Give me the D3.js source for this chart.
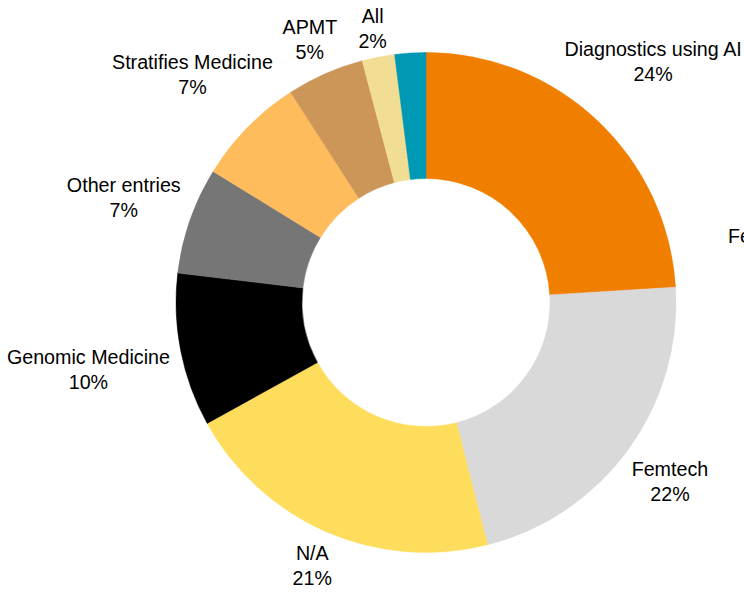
<!DOCTYPE html>
<html>
<head>
<meta charset="utf-8">
<script src="https://cdn.jsdelivr.net/npm/d3@7"></script>
<style>
  body { margin: 0; background: #fff; }
  svg { display: block; }
</style>
</head>
<body>
<svg id="chart" width="744" height="592"></svg>
<script>
// slices, clockwise from 12 o'clock
var categories = ["Diagnostics using AI", "Femtech", "N/A", "Genomic Medicine", "Other entries",
                  "Stratifies Medicine", "APMT", "All", "Fe"]
var values = [24.0, 22.0, 20.9, 9.9, 6.9, 7.1, 5.0, 2.1, 2.0]
var pctLabels = ["24%", "22%", "21%", "10%", "7%", "7%", "5%", "2%", ""]
var colors = ["#F07F00", "#D9D9D9", "#FFDD5C", "#000000", "#767676",
              "#FFBC5C", "#CD9659", "#F2DD94", "#0099B4"]
// how far out each label sits (Excel "best fit" look)
var labelDist = [331.5, 302, 286, 344, 320, 327, 288, 280, 0]

var svg = d3.select('svg#chart')
var width = 744, height = 592
var cx = 426, cy = 302.5
var outerR = 250, innerR = 124
var font = "19.7px 'Liberation Sans', Arial, sans-serif"

var data = categories.map((c, i) => ({name: c, value: values[i], pct: pctLabels[i], color: colors[i], dist: labelDist[i]}))

var pie = d3.pie()
    .sort(null)
    .value(d => d.value)

var arc = d3.arc()
    .innerRadius(innerR)
    .outerRadius(outerR)

var arcs = pie(data)

var g = svg.append("g")
    .attr("transform", `translate(${cx},${cy})`)

g.selectAll("path")
  .data(arcs)
  .enter()
  .append("path")
    .attr("d", arc)
    .attr("fill", d => d.data.color)
    .attr("stroke", d => d.data.color)
    .attr("stroke-width", 0.5)

var labels = g.selectAll("text.lbl")
  .data(arcs.filter(d => d.data.dist > 0))
  .enter()
  .append("text")
    .attr("class", "lbl")
    .attr("text-anchor", "middle")
    .style("font", font)
    .attr("fill", "#000")
    .attr("transform", d => {
      var a = (d.startAngle + d.endAngle) / 2
      return `translate(${Math.sin(a) * d.data.dist},${-Math.cos(a) * d.data.dist})`
    })

labels.append("tspan")
    .attr("x", 0)
    .attr("y", -5)
    .text(d => d.data.name)
labels.append("tspan")
    .attr("x", 0)
    .attr("y", 20)
    .text(d => d.data.pct)

// the teal slice's label was dragged off to the right and is cut by the edge
svg.append("text")
    .attr("x", 728)
    .attr("y", 243)
    .style("font", font)
    .text(categories[8])
</script>
</body>
</html>
